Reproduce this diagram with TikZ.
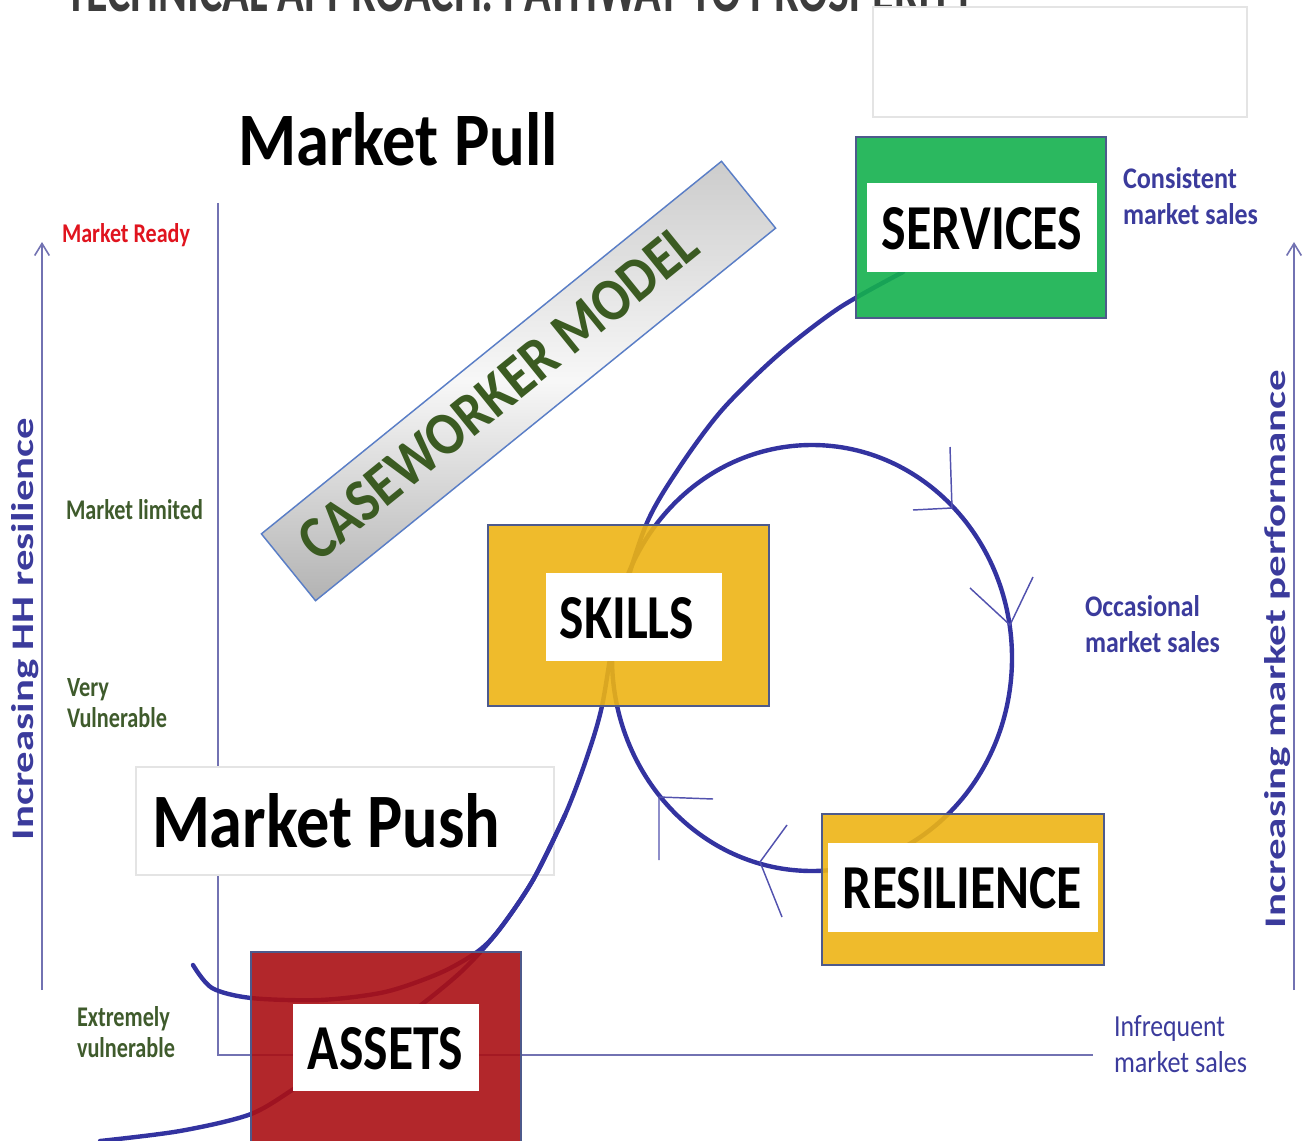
\documentclass[tikz,border=0pt]{standalone}
\usepackage{fontspec}
\setmainfont{Carlito}
\usepackage{graphicx}
\usetikzlibrary{arrows.meta}
\newdimen\pxu \pxu=0.75pt
\newcommand\fitt[3]{\resizebox{#1\pxu}{#2\pxu}{#3}}
\definecolor{curveblue}{HTML}{3333A0}
\definecolor{axisblue}{HTML}{7272B2}
\definecolor{boxedge}{HTML}{4D5A8C}
\definecolor{grn}{HTML}{14B04E}
\definecolor{gold}{HTML}{EDB415}
\definecolor{dred}{HTML}{AA1014}
\definecolor{lblblue}{HTML}{3B3B9C}
\definecolor{lblgreen}{HTML}{3F5B2C}
\definecolor{cwgreen}{HTML}{3B5B22}
\definecolor{cwedge}{HTML}{5A7EC6}
\definecolor{readyred}{HTML}{E0141E}
\definecolor{titlegray}{HTML}{3C3C3C}
\definecolor{faintgray}{HTML}{E4E4E4}
\begin{document}
\begin{tikzpicture}[x=0.75pt,y=-0.75pt,
  txt/.style={inner sep=0pt, outer sep=0pt},
  axisline/.style={draw=axisblue, line width=1.1pt},
  axisarrow/.style={draw=axisblue, line width=1.5pt, -{Straight Barb[length=9pt,width=11pt,line width=1.2pt]}},
  pathcurve/.style={draw=curveblue, line width=3.3pt, line cap=round},
  barb/.style={draw=curveblue!85!white, line width=1.1pt},
  outerbox/.style={draw=boxedge, line width=1.1pt, fill opacity=0.9, inner sep=0pt, outer sep=0pt},
  innerbox/.style={fill=white, inner sep=0pt, outer sep=0pt},
  plainbox/.style={draw=faintgray, line width=0.8pt, fill=white, inner sep=0pt, outer sep=0pt}]
\useasboundingbox (0,0) rectangle (1306,1141);
\clip (0,0) rectangle (1306,1141);

% title (cut off at top)
\node (title) [txt, anchor=base west, text=titlegray] at (65,12) {\fitt{910}{40}{\bfseries TECHNICAL APPROACH: PATHWAY TO PROSPERITY}};
\node (graybox) [plainbox, minimum width=280.5pt, minimum height=82.5pt] at (1060,62) {};

% market pull
\node (pull) [txt, anchor=base west] at (238,166) {\fitt{320}{53}{\bfseries Market Pull}};

% axes
\coordinate (vtop) at (218,203);
\coordinate (corner) at (218,1055);
\coordinate (hend) at (1093,1055);
\draw[axisline] (vtop) -- (corner) -- (hend);
\coordinate (la0) at (42,990);
\coordinate (la1) at (42,242);
\draw[axisarrow] (la0) -- (la1);
\coordinate (ra0) at (1294,990);
\coordinate (ra1) at (1294,242);
\draw[axisarrow] (ra0) -- (ra1);

% market push
\node (pushbox) [plainbox, minimum width=313.5pt, minimum height=81pt] at (345,821) {};
\node (push) [txt, anchor=base west] at (152,847) {\fitt{348}{54}{\bfseries Market Push}};

% caseworker model
\node (cwbox) [rotate=39, minimum width=444pt, minimum height=64.5pt, draw=cwedge, line width=1.1pt,
  top color=black!20, bottom color=black!30, middle color=black!3, inner sep=0pt] at (518.5,381) {};
\node (cwtext) [txt, rotate=39, text=cwgreen] at (498,392) {\fitt{495}{40}{\bfseries CASEWORKER MODEL}};

% curves
\draw[pathcurve] plot[smooth, tension=0.5] coordinates {(903,272) (839,308) (778,355) (722,410) (679,468) (646,525) (618,615) (602,706) (586,760) (565,815) (533,880) (499,930) (463,970) (417,1008) (360,1048) (300,1085) (251,1114) (180,1131) (100,1141)};
\draw[pathcurve] plot[smooth, tension=0.5] coordinates {(193,965) (212,988) (251,998) (320,1000) (385,992) (440,973) (477,952) (499,930) (533,880) (565,815)};
\coordinate (loopc) at (812,658);
\draw[pathcurve] (loopc) ellipse [x radius=150pt, y radius=159.75pt];

% arrow barbs on loop
\coordinate (b1a) at (950,447); \coordinate (b1t) at (952,508); \coordinate (b1b) at (913,510);
\coordinate (b2a) at (970,588); \coordinate (b2t) at (1010,625); \coordinate (b2b) at (1033,577);
\coordinate (b3a) at (787,825); \coordinate (b3t) at (760,862); \coordinate (b3b) at (782,917);
\coordinate (b4a) at (713,799); \coordinate (b4t) at (659,797); \coordinate (b4b) at (659,860);
\draw[barb] (b1a) -- (b1t) -- (b1b);
\draw[barb] (b2a) -- (b2t) -- (b2b);
\draw[barb] (b3a) -- (b3t) -- (b3b);
\draw[barb] (b4a) -- (b4t) -- (b4b);

% boxes
\node (services) [outerbox, fill=grn, minimum width=187.5pt, minimum height=135.75pt] at (981,227.5) {};
\node (servicesin) [innerbox, minimum width=172.5pt, minimum height=66.75pt] at (982,227.5) {};
\node (servicestxt) [txt] at (982,229) {\fitt{200}{42}{\bfseries SERVICES}};

\node (skills) [outerbox, fill=gold, minimum width=210.75pt, minimum height=135.75pt] at (628.5,615.5) {};
\node (skillsin) [innerbox, minimum width=132pt, minimum height=66pt] at (634,617) {};
\node (skillstxt) [txt] at (627,618.5) {\fitt{134}{41}{\bfseries SKILLS}};

\node (resil) [outerbox, fill=gold, minimum width=211.5pt, minimum height=113.25pt] at (963,889.5) {};
\node (resilin) [innerbox, minimum width=202.5pt, minimum height=66.75pt] at (963,887.5) {};
\node (resiltxt) [txt] at (962.5,888.5) {\fitt{239}{41}{\bfseries RESILIENCE}};

\node (assets) [outerbox, fill=dred, minimum width=202.5pt, minimum height=148.5pt] at (386,1051) {};
\node (assetsin) [innerbox, minimum width=139.5pt, minimum height=65.25pt] at (386,1047.5) {};
\node (assetstxt) [txt] at (385.5,1049) {\fitt{155}{42}{\bfseries ASSETS}};

% left labels
\node (ready) [txt, anchor=base west, text=readyred] at (62,243) {\fitt{128}{19}{\bfseries Market Ready}};
\node (limited) [txt, anchor=base west, text=lblgreen] at (66,519) {\fitt{137}{20}{\bfseries Market limited}};
\node (very) [txt, anchor=base west, text=lblgreen] at (67,696) {\fitt{42}{18}{\bfseries Very}};
\node (vuln) [txt, anchor=base west, text=lblgreen] at (67,727) {\fitt{100}{20}{\bfseries Vulnerable}};
\node (extr) [txt, anchor=base west, text=lblgreen] at (77,1026) {\fitt{93}{20}{\bfseries Extremely}};
\node (vuln2) [txt, anchor=base west, text=lblgreen] at (77,1057) {\fitt{98}{20}{\bfseries vulnerable}};

% right labels
\node (cons1) [txt, anchor=base west, text=lblblue] at (1123,189) {\fitt{114}{21}{\bfseries Consistent}};
\node (cons2) [txt, anchor=base west, text=lblblue] at (1123,225) {\fitt{135}{21}{\bfseries market sales}};
\node (occ1) [txt, anchor=base west, text=lblblue] at (1085,616) {\fitt{115}{21}{\bfseries Occasional}};
\node (occ2) [txt, anchor=base west, text=lblblue] at (1085,652) {\fitt{135}{21}{\bfseries market sales}};
\node (inf1) [txt, anchor=base west, text=lblblue] at (1114,1036) {\fitt{111}{21}{Infrequent}};
\node (inf2) [txt, anchor=base west, text=lblblue] at (1114,1072) {\fitt{133}{21}{market sales}};

% rotated axis labels
\node (hhres) [txt, rotate=90, anchor=base west, text=lblblue] at (34,840) {\fitt{422}{22}{\bfseries Increasing HH resilience}};
\node (mperf) [txt, rotate=90, anchor=base west, text=lblblue] at (1285,928) {\fitt{558}{21}{\bfseries Increasing market performance}};
\end{tikzpicture}
\end{document}
